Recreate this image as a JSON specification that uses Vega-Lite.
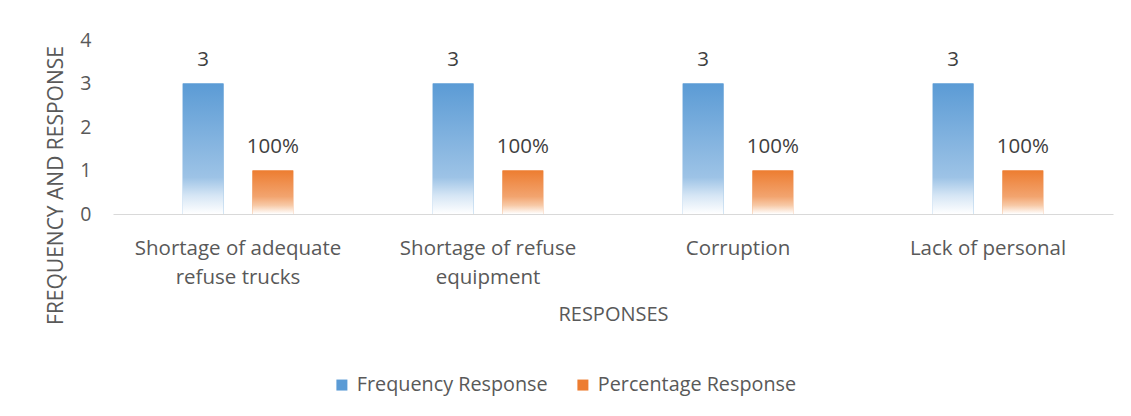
{
  "$schema": "https://vega.github.io/schema/vega-lite/v6.json",
  "width": 1000,
  "height": 174,
  "autosize": {"type": "none"},
  "padding": {"left": 113, "top": 40, "right": 18, "bottom": 202},
  "background": "white",
  "config": {
    "font": "Open Sans",
    "view": {"stroke": null}
  },
  "data": {
    "values": [
      {"category": "Shortage of adequate refuse trucks", "series": "Frequency Response", "value": 3, "label": "3"},
      {"category": "Shortage of adequate refuse trucks", "series": "Percentage Response", "value": 1, "label": "100%"},
      {"category": "Shortage of refuse equipment", "series": "Frequency Response", "value": 3, "label": "3"},
      {"category": "Shortage of refuse equipment", "series": "Percentage Response", "value": 1, "label": "100%"},
      {"category": "Corruption", "series": "Frequency Response", "value": 3, "label": "3"},
      {"category": "Corruption", "series": "Percentage Response", "value": 1, "label": "100%"},
      {"category": "Lack of personal", "series": "Frequency Response", "value": 3, "label": "3"},
      {"category": "Lack of personal", "series": "Percentage Response", "value": 1, "label": "100%"}
    ]
  },
  "encoding": {
    "x": {
      "field": "category",
      "type": "nominal",
      "sort": null,
      "scale": {"paddingInner": 0, "paddingOuter": 0},
      "axis": {
        "title": "RESPONSES",
        "titleFontSize": 20,
        "titleFontWeight": "normal",
        "titleColor": "#595959",
        "titleY": 100,
        "titleBaseline": "middle",
        "labelAngle": 0,
        "labelFontSize": 20.5,
        "labelColor": "#595959",
        "labelPadding": 24,
        "labelBaseline": "top",
        "labelLineHeight": 29,
        "labelLimit": 300,
        "labelExpr": "datum.value == 'Shortage of adequate refuse trucks' ? ['Shortage of adequate', 'refuse trucks'] : datum.value == 'Shortage of refuse equipment' ? ['Shortage of refuse', 'equipment'] : datum.value",
        "ticks": false,
        "domain": true,
        "domainColor": "#D9D9D9",
        "domainWidth": 1
      }
    },
    "xOffset": {
      "field": "series",
      "type": "nominal",
      "sort": ["Frequency Response", "Percentage Response"],
      "scale": {"paddingInner": 0.416, "paddingOuter": 1.033}
    },
    "y": {
      "field": "value",
      "type": "quantitative",
      "scale": {"domain": [0, 4], "nice": false},
      "axis": {
        "title": "FREQUENCY AND RESPONSE",
        "titleFontSize": 21,
        "titleFontWeight": "normal",
        "titleColor": "#595959",
        "titleX": -57,
        "titleY": 145,
        "titleAngle": -90,
        "titleAlign": "center",
        "titleBaseline": "middle",
        "values": [0, 1, 2, 3, 4],
        "labelFontSize": 19.5,
        "labelColor": "#595959",
        "labelPadding": 22,
        "ticks": false,
        "domain": false,
        "grid": false
      }
    }
  },
  "layer": [
    {
      "mark": {"type": "bar"},
      "encoding": {
        "color": {
          "field": "series",
          "type": "nominal",
          "sort": ["Frequency Response", "Percentage Response"],
          "scale": {"range": ["#5B9BD5", "#ED7D31"]},
          "legend": {
            "title": null,
            "orient": "none",
            "direction": "horizontal",
            "legendX": 219,
            "legendY": 335,
            "symbolType": "square",
            "symbolSize": 121,
            "symbolStrokeWidth": 0,
            "labelFontSize": 19.8,
            "labelColor": "#595959",
            "labelOffset": 5,
            "columnPadding": 25,
            "labelLimit": 300
          }
        }
      }
    },
    {
      "transform": [{"filter": "datum.series == 'Frequency Response'"}],
      "mark": {
        "type": "bar",
        "color": {
          "gradient": "linear",
          "x1": 0, "y1": 0, "x2": 0, "y2": 1,
          "stops": [
            {"offset": 0, "color": "#5B9BD5"},
            {"offset": 0.72, "color": "#9DC3E6"},
            {"offset": 0.86, "color": "#D6E6F5"},
            {"offset": 1, "color": "#FFFFFF"}
          ]
        }
      },
      "encoding": {}
    },
    {
      "transform": [{"filter": "datum.series == 'Percentage Response'"}],
      "mark": {
        "type": "bar",
        "color": {
          "gradient": "linear",
          "x1": 0, "y1": 0, "x2": 0, "y2": 1,
          "stops": [
            {"offset": 0, "color": "#ED7D31"},
            {"offset": 0.6, "color": "#F2A46F"},
            {"offset": 0.8, "color": "#F7C9A6"},
            {"offset": 1, "color": "#FFFFFF"}
          ]
        }
      },
      "encoding": {}
    },
    {
      "mark": {"type": "text", "baseline": "alphabetic", "dy": -18, "fontSize": 20.5, "color": "#404040"},
      "encoding": {
        "text": {"field": "label", "type": "nominal"}
      }
    }
  ]
}
